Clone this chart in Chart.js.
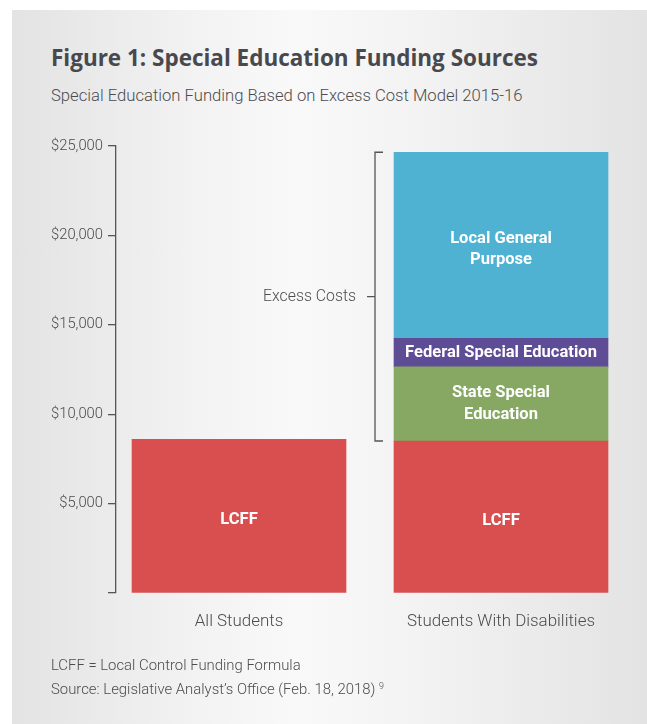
<!DOCTYPE html>
<html>
<head>
<meta charset="utf-8">
<script src="https://cdn.jsdelivr.net/npm/chart.js@4.4.1/dist/chart.umd.min.js"></script>
<style>
  html, body { margin: 0; padding: 0; background: #ffffff; }
  #page { position: relative; width: 647px; height: 724px; overflow: hidden; background: #ffffff; }
  #panel { position: absolute; left: 12px; top: 10px; width: 635px; height: 714px;
    background: linear-gradient(to right, #e3e3e3 0%, #f2f2f2 28%, #f9f9f9 45%, #f2f2f2 66%, #e3e3e3 100%); }
  #chart { position: absolute; left: 0; top: 0; }
  .txt { position: absolute; white-space: nowrap; color: #4c4c50; }
  #title { color: #48484d; }
  #note2 sup { font-size: 0.6em; vertical-align: 0.55em; line-height: 0; }
</style>
</head>
<body>
<div id="page">
  <div id="panel"></div>
  <div class="txt" id="title">Figure 1: Special Education Funding Sources</div>
  <div class="txt" id="subtitle">Special Education Funding Based on Excess Cost Model 2015-16</div>
  <canvas id="chart" width="647" height="724"></canvas>
  <div class="txt" id="note1">LCFF = Local Control Funding Formula</div>
  <div class="txt" id="note2"><span id="srcText">Source: Legislative Analyst’s Office (Feb. 18, 2018)</span> <sup>9</sup></div>
</div>
<script>
// ---- data ----
const categories = ['All Students', 'Students With Disabilities'];
const lcff = [8600, 8500];
const stateSpecialEd = [null, 4150];
const federalSpecialEd = [null, 1600];
const localGeneral = [null, 10400];
const yTickValues = [0, 5000, 10000, 15000, 20000, 25000];
const segmentLabels = {
  'LCFF': ['LCFF'],
  'State Special Education': ['State Special', 'Education'],
  'Federal Special Education': ['Federal Special Education'],
  'Local General Purpose': ['Local General', 'Purpose']
};
const bracketLabel = 'Excess Costs';

// ---- fonts: sizes fitted so text widths match the reference ----
const SANS = "Roboto, 'Liberation Sans', sans-serif";
const HEAD = "'Open Sans', 'Liberation Sans', sans-serif";
const LIGHT = 300;
const TEXT = '#4c4c50';
const mctx = document.createElement('canvas').getContext('2d');
function fit(text, weight, family, target) {
  mctx.font = weight + ' 100px ' + family;
  return 100 * target / mctx.measureText(text).width;
}
function placeText(id, weight, family, size, left, baseline) {
  const el = document.getElementById(id);
  mctx.font = weight + ' ' + size + 'px ' + family;
  const m = mctx.measureText('Hg');
  const a = m.fontBoundingBoxAscent, d = m.fontBoundingBoxDescent;
  el.style.fontFamily = family;
  el.style.fontWeight = weight;
  el.style.fontSize = size + 'px';
  el.style.lineHeight = size + 'px';
  el.style.left = left + 'px';
  el.style.top = (baseline - ((size - (a + d)) / 2 + a)) + 'px';
}
placeText('title', 700, HEAD, fit('Figure 1: Special Education Funding Sources', 700, HEAD, 487), 51, 67);
placeText('subtitle', LIGHT, SANS, fit('Special Education Funding Based on Excess Cost Model 2015-16', LIGHT, SANS, 472), 51, 102);
const noteSize = fit('LCFF = Local Control Funding Formula', LIGHT, SANS, 250);
placeText('note1', LIGHT, SANS, noteSize, 51, 670);
placeText('note2', LIGHT, SANS, noteSize, 51, 694);

const yTickSize = fit('$25,000', LIGHT, SANS, 52);
const catSize = fit('Students With Disabilities', LIGHT, SANS, 188);
const excessSize = fit(bracketLabel, LIGHT, SANS, 93);
const barLabelSize = fit('Federal Special Education', 700, SANS, 192);

function toPoints(arr) {
  return arr.map((v, i) => (v === null ? null : { x: i, y: v })).filter(p => p !== null);
}

const barLabelPlugin = {
  id: 'barLabels',
  afterDatasetsDraw(chart) {
    const ctx = chart.ctx;
    ctx.save();
    ctx.fillStyle = '#ffffff';
    ctx.textAlign = 'center';
    ctx.textBaseline = 'middle';
    ctx.font = '700 ' + barLabelSize + 'px ' + SANS;
    chart.data.datasets.forEach((ds, di) => {
      const meta = chart.getDatasetMeta(di);
      const lines = segmentLabels[ds.label] || [];
      meta.data.forEach(el => {
        const h = Math.abs(el.base - el.y);
        const cy = (el.y + el.base) / 2 + (h > 120 ? 4 : 0);
        const lh = 21.7;
        const start = cy - (lines.length - 1) * lh / 2;
        lines.forEach((t, k) => ctx.fillText(t, el.x, start + k * lh));
      });
    });
    ctx.restore();
  }
};

const bracketPlugin = {
  id: 'bracket',
  afterDatasetsDraw(chart) {
    const ctx = chart.ctx;
    const top = chart.getDatasetMeta(3).data[0];
    const low = chart.getDatasetMeta(1).data[0];
    if (!top || !low) return;
    const barLeft = low.x - low.width / 2;
    const bx = barLeft - 19;
    const y1 = top.y, y2 = low.base;
    const ym = (y1 + y2) / 2;
    ctx.save();
    ctx.strokeStyle = '#555558';
    ctx.lineWidth = 1.3;
    ctx.beginPath();
    ctx.moveTo(bx + 8, y1); ctx.lineTo(bx, y1); ctx.lineTo(bx, y2); ctx.lineTo(bx + 8, y2);
    ctx.moveTo(bx - 8, ym); ctx.lineTo(bx, ym);
    ctx.stroke();
    ctx.fillStyle = TEXT;
    ctx.font = LIGHT + ' ' + excessSize + 'px ' + SANS;
    ctx.textAlign = 'right';
    ctx.textBaseline = 'middle';
    ctx.fillText(bracketLabel, bx - 19, ym);
    ctx.restore();
  }
};

new Chart(document.getElementById('chart'), {
  type: 'bar',
  data: {
    datasets: [
      { label: 'LCFF', data: toPoints(lcff), backgroundColor: '#d94f4f' },
      { label: 'State Special Education', data: toPoints(stateSpecialEd), backgroundColor: '#86a863' },
      { label: 'Federal Special Education', data: toPoints(federalSpecialEd), backgroundColor: '#5e4c97' },
      { label: 'Local General Purpose', data: toPoints(localGeneral), backgroundColor: '#4fb2d2' }
    ]
  },
  options: {
    responsive: false,
    devicePixelRatio: 1,
    animation: false,
    barThickness: 214,
    layout: { padding: { left: 0, top: 146, right: 7, bottom: 0 } },
    plugins: { legend: { display: false }, tooltip: { enabled: false }, title: { display: false } },
    scales: {
      x: {
        type: 'linear',
        stacked: true,
        offset: false,
        min: -0.4695,
        max: 1.5305,
        afterBuildTicks: s => { s.ticks = categories.map((c, i) => ({ value: i })); },
        afterFit: s => { s.height = 131; },
        grid: { display: false, drawTicks: false, offset: false },
        border: { display: false },
        ticks: {
          autoSkip: false, maxRotation: 0, padding: 19,
          color: TEXT, font: { family: SANS, size: catSize, weight: LIGHT },
          callback: v => categories[v]
        }
      },
      y: {
        stacked: true,
        min: 0,
        max: 25000,
        afterBuildTicks: s => { s.ticks = yTickValues.map(v => ({ value: v })); },
        afterFit: s => { s.width = 116; },
        grid: { display: true, drawOnChartArea: false, drawTicks: true, tickLength: 8, color: '#555558', lineWidth: 1.3 },
        border: { display: true, color: '#555558', width: 1.3 },
        ticks: {
          padding: 5, color: TEXT, font: { family: SANS, size: yTickSize, weight: LIGHT },
          callback: v => (v === 0 ? '' : '$' + v.toLocaleString('en-US'))
        }
      }
    }
  },
  plugins: [barLabelPlugin, bracketPlugin]
});
</script>
</body>
</html>
